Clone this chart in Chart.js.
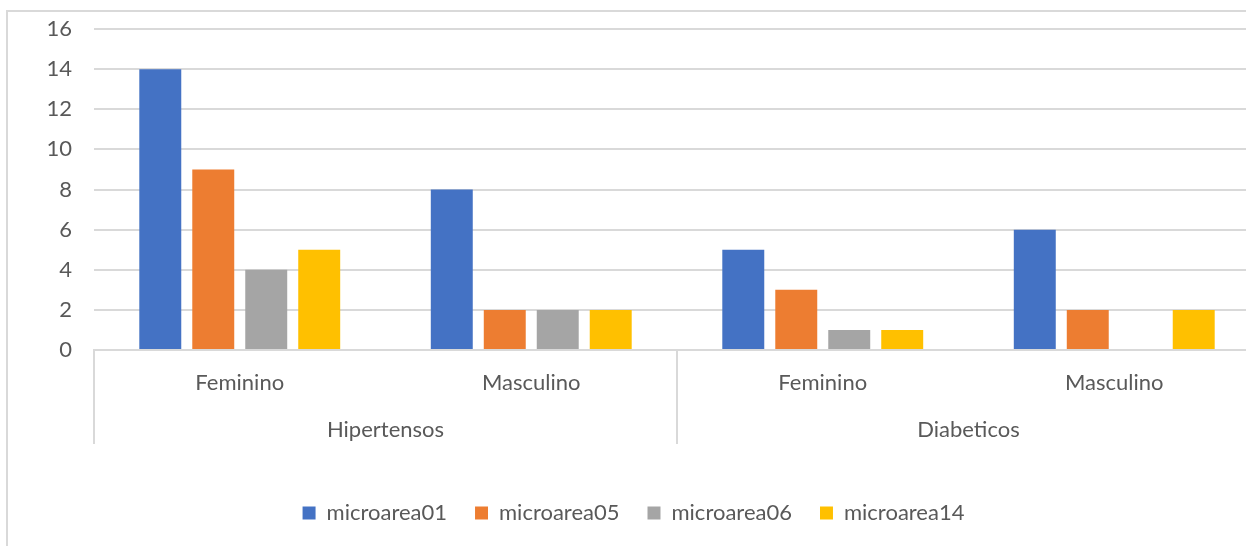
<!DOCTYPE html>
<html><head><meta charset="utf-8">
<script src="https://cdn.jsdelivr.net/npm/chart.js@4.4.0/dist/chart.umd.min.js"></script>
<style>
html,body{margin:0;padding:0;overflow:hidden;background:#fff;width:1246px;height:546px}
#frame{position:absolute;left:6px;top:10px;width:1300px;height:600px;border:2px solid #d9d9d9;box-sizing:border-box}
#c{position:absolute;left:7px;top:11px}
</style></head><body>
<div id="frame"></div>
<canvas id="c" width="1259" height="535"></canvas>
<script>
const groups = ['Hipertensos', 'Diabeticos'];
const categories = ['Feminino', 'Masculino', 'Feminino', 'Masculino'];
const seriesNames = ['microarea01', 'microarea05', 'microarea06', 'microarea14'];
const microarea01 = [14, 8, 5, 6];
const microarea05 = [9, 2, 3, 2];
const microarea06 = [4, 2, 1, 0];
const microarea14 = [5, 2, 1, 2];
const yMin = 0, yMax = 16, yStep = 2;
const seriesColors = ['#4472C4', '#ED7D31', '#A5A5A5', '#FFC000'];

const FONT = {family: 'Lato', size: 22};
const TEXT = '#595959';
const LINE = '#d9d9d9';

const seriesValues = [microarea01, microarea05, microarea06, microarea14];
const datasets = seriesNames.map((name, i) => ({
  label: name,
  data: seriesValues[i],
  backgroundColor: seriesColors[i],
  borderWidth: 0,
  xAxisID: 'x',
  yAxisID: 'y',
  barPercentage: 0.792,
  categoryPercentage: 0.727
}));

new Chart(document.getElementById('c'), {
  type: 'bar',
  data: {labels: categories, datasets},
  options: {
    responsive: false,
    devicePixelRatio: 1,
    animation: false,
    layout: {padding: {left: 0, right: 6, top: 18, bottom: 12}},
    plugins: {
      tooltip: {enabled: false},
      legend: {
        position: 'bottom',
        labels: {boxWidth: 13, boxHeight: 13, padding: 28, color: TEXT, font: FONT}
      }
    },
    scales: {
      y: {
        min: yMin, max: yMax,
        ticks: {stepSize: yStep, color: TEXT, font: FONT, padding: 0},
        grid: {color: LINE, lineWidth: 2, drawTicks: true, tickLength: 22, tickColor: 'rgba(0,0,0,0)'},
        border: {display: false},
        afterFit: s => { s.width = 87; }
      },
      x: {
        type: 'category',
        position: 'bottom',
        weight: 0,
        offset: true,
        ticks: {color: TEXT, font: FONT, padding: -27, maxRotation: 0, autoSkip: false},
        grid: {
          offset: true, drawOnChartArea: false, drawTicks: true, tickLength: 47, lineWidth: 2,
          color: ctx => (ctx.index === undefined || ctx.index % 2 === 0) ? LINE : 'rgba(0,0,0,0)'
        },
        border: {display: true, color: LINE, width: 2},
        afterFit: s => { s.height = 47; }
      },
      x2: {
        type: 'category',
        position: 'bottom',
        weight: 1,
        labels: groups,
        offset: true,
        ticks: {color: TEXT, font: FONT, padding: -27, maxRotation: 0, autoSkip: false},
        grid: {offset: true, drawOnChartArea: false, drawTicks: true, tickLength: 47, lineWidth: 2, color: LINE},
        border: {display: false},
        afterFit: s => { s.height = 77; }
      }
    }
  }
});
</script>
</body></html>
